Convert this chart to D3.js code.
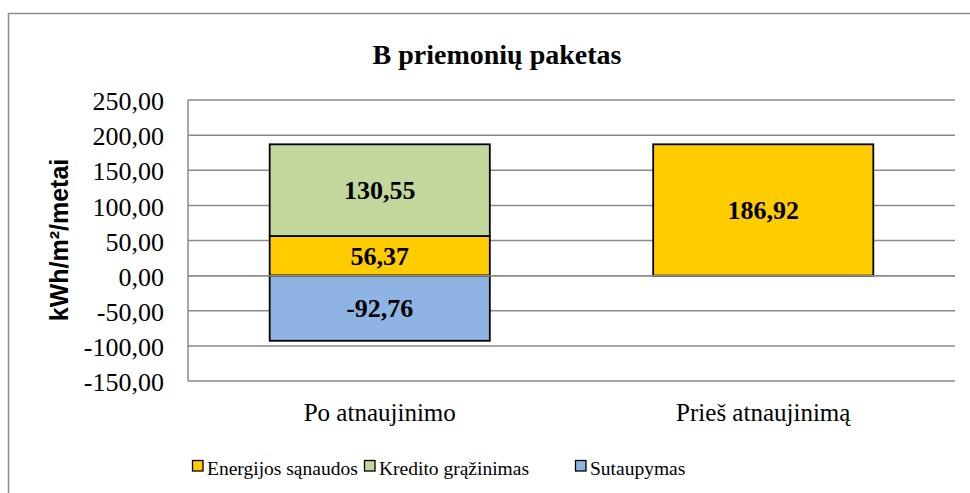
<!DOCTYPE html>
<html><head><meta charset="utf-8">
<script src="https://cdn.jsdelivr.net/npm/d3@7/dist/d3.min.js"></script>
<style>body{margin:0;background:#fff}svg{display:block}</style>
</head><body>
<svg id="c" width="970" height="493"></svg>
<script>
const categories = ["Po atnaujinimo", "Prieš atnaujinimą"];
const seriesNames = ["Energijos sąnaudos", "Kredito grąžinimas", "Sutaupymas"];
const energijos = [56.37, 186.92];
const kredito = [130.55, 0];
const sutaupymas = [-92.76, 0];
const yTicks = [-150, -100, -50, 0, 50, 100, 150, 200, 250];
const colors = ["#FFCC00", "#C3D69B", "#8EB4E3"];

const SERIF = '"Liberation Serif", "Times New Roman", serif';
const SANS = '"Liberation Sans", Arial, sans-serif';
const svg = d3.select("#c");
const fmt = v => d3.format(".2f")(v).replace(".", ",").replace("−", "-");

// outer frame
svg.append("rect").attr("x", 8.5).attr("y", 13.5).attr("width", 980).attr("height", 500)
  .attr("fill", "#fff").attr("stroke", "#8c8c8c").attr("stroke-width", 1.5);

const pL = 188, pR = 955, pT = 100, pB = 381;
const y = d3.scaleLinear().domain([-150, 250]).range([pB, pT]);
const x = d3.scaleBand().domain(categories).range([pL, pR]).paddingInner(0.426).paddingOuter(0.213);

// title
svg.append("text").style("font-family", SERIF).attr("x", 497).attr("y", 64).attr("text-anchor", "middle")
  .style("font-weight", "bold").style("font-size", "28px").text("B priemonių paketas");

// gridlines
svg.append("g").selectAll("line").data(yTicks).join("line")
  .attr("x1", pL).attr("x2", pR).attr("y1", d => y(d)).attr("y2", d => y(d))
  .attr("stroke", "#8a8a8a").attr("stroke-width", 1.5);
svg.append("line").attr("x1", pL).attr("x2", pL).attr("y1", pT).attr("y2", pB)
  .attr("stroke", "#8a8a8a").attr("stroke-width", 1.5);

// y axis labels
const yAxis = d3.axisLeft(y).tickValues(yTicks).tickSize(0).tickPadding(24).tickFormat(fmt);
const ga = svg.append("g").attr("transform", `translate(${pL},0)`).call(yAxis);
ga.select(".domain").remove();
ga.selectAll("text").style("font-family", SERIF).style("font-size", "26px").attr("fill", "#000").attr("dy", "0.37em");

// y axis title
svg.append("text").style("font-family", SANS).attr("transform", `translate(68,240) rotate(-90)`)
  .attr("text-anchor", "middle").style("font-weight", "bold").style("font-size", "25px").text("kWh/m²/metai");

// stacked segments
const segs = [];
categories.forEach((c, i) => {
  let pos = 0, neg = 0;
  [energijos, kredito, sutaupymas].forEach((arr, s) => {
    const v = arr[i];
    if (!v) return;
    let y0, y1;
    if (v >= 0) { y0 = pos; y1 = pos + v; pos = y1; } else { y0 = neg; y1 = neg + v; neg = y1; }
    segs.push({ c, s, v, y0, y1 });
  });
});
const g = svg.append("g");
g.selectAll("rect").data(segs).join("rect")
  .attr("x", d => x(d.c)).attr("width", x.bandwidth())
  .attr("y", d => y(Math.max(d.y0, d.y1))).attr("height", d => Math.abs(y(d.y0) - y(d.y1)))
  .attr("fill", d => colors[d.s]).attr("stroke", "#000").attr("stroke-width", 1.8);
svg.append("line").attr("x1", pL).attr("x2", pR).attr("y1", y(0)).attr("y2", y(0))
  .attr("stroke", "#8a8a8a").attr("stroke-width", 1.5);
g.selectAll("text").data(segs).join("text").style("font-family", SERIF)
  .attr("x", d => x(d.c) + x.bandwidth() / 2).attr("y", d => y((d.y0 + d.y1) / 2)).attr("dy", "0.35em")
  .attr("text-anchor", "middle").style("font-weight", "bold").style("font-size", "26px").text(d => fmt(d.v));

// x axis labels
svg.append("g").selectAll("text").data(categories).join("text").style("font-family", SERIF)
  .attr("x", d => x(d) + x.bandwidth() / 2).attr("y", 421).attr("text-anchor", "middle")
  .style("font-size", "25px").text(d => d);

// legend
const legX = [192, 364, 575];
const lg = svg.append("g").selectAll("g").data(seriesNames).join("g")
  .attr("transform", (d, i) => `translate(${legX[i]},0)`);
lg.append("rect").attr("x", 0.5).attr("y", 460.5).attr("width", 10.5).attr("height", 10.5)
  .attr("fill", (d, i) => colors[i]).attr("stroke", "#000").attr("stroke-width", 1.3);
lg.append("text").style("font-family", SERIF).attr("x", 15).attr("y", 475)
  .style("font-size", "19.5px").text(d => d);
</script>
</body></html>
